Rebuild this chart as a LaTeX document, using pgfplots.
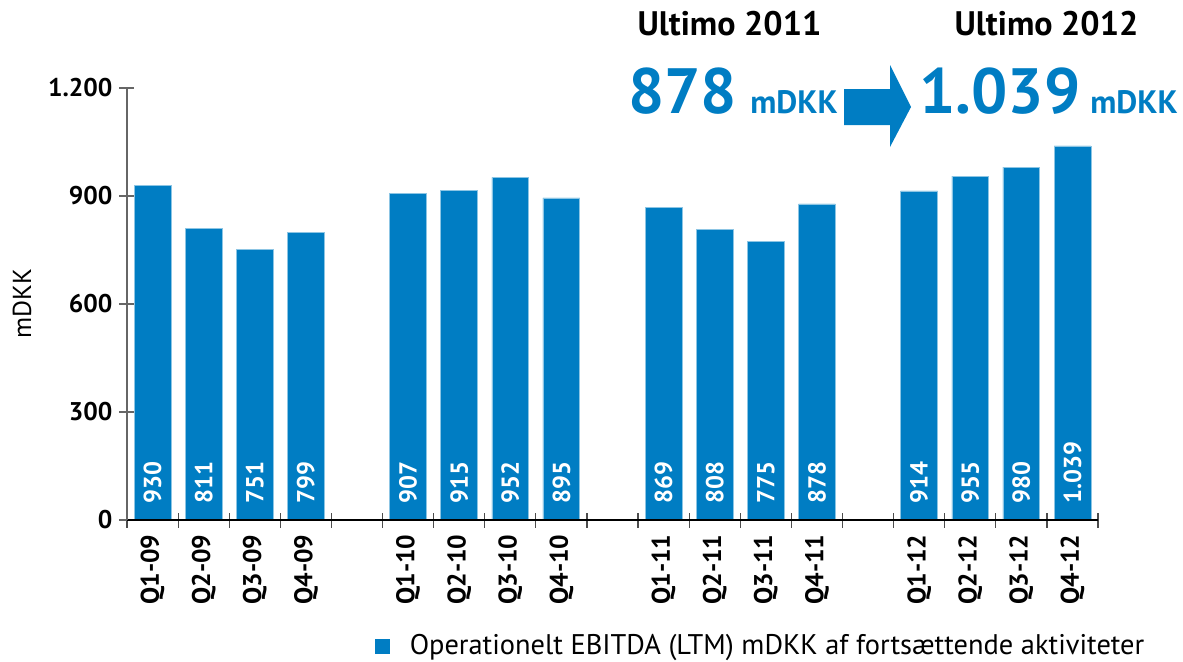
\documentclass[border=0pt]{standalone}
\usepackage{fontspec}
\setmainfont{PT Sans}
\usepackage{pgfplots}
\pgfplotsset{compat=1.18}
\usepackage{pgfplotstable}
\definecolor{barblue}{RGB}{0,125,195}

\pgfplotstableread{
x y lbl
0 930 930
1 811 811
2 751 751
3 799 799
5 907 907
6 915 915
7 952 952
8 895 895
10 869 869
11 808 808
12 775 775
13 878 878
15 914 914
16 955 955
17 980 980
18 1039 1.039
}\ebitda

\begin{document}
\begin{tikzpicture}
\path[use as bounding box] (-63.5pt,-70.5pt) rectangle (528pt,260pt);
\begin{axis}[
  scale only axis, width=485.5pt, height=216pt,
  xmin=-0.5, xmax=18.5, ymin=0, ymax=1200,
  axis on top,
  axis x line*=bottom, axis y line*=left,
  axis line style={-},
  x axis line style={black, line width=0.8pt},
  y axis line style={black!60, line width=0.8pt},
  xtick={-0.5,0.5,...,18.5},
  x tick label as interval,
  xticklabels={Q1-09,Q2-09,Q3-09,Q4-09,,Q1-10,Q2-10,Q3-10,Q4-10,,Q1-11,Q2-11,Q3-11,Q4-11,,Q1-12,Q2-12,Q3-12,Q4-12},
  ytick={0,300,600,900,1200},
  tick align=center, major tick length=7.5pt,
  x tick style={black!70, line width=0.6pt},
  y tick style={black!60, line width=0.6pt},
  tick label style={font=\bfseries\fontsize{12.8}{14}\selectfont},
  xticklabel style={rotate=90, anchor=east},
  ylabel={mDKK},
  ylabel style={at={(axis description cs:-0.108,0.5)}, anchor=center, font=\fontsize{13}{15}\selectfont},
  legend entries={Operationelt EBITDA (LTM) mDKK af fortsættende aktiviteter},
  legend style={draw=none, fill=none, at={(axis description cs:0.249,-0.292)}, anchor=west, font=\fontsize{14.2}{16}\selectfont},
  legend image code/.code={\fill[barblue] (0pt,-3.5pt) rectangle (7pt,3.5pt); \path (15pt,0pt);},
  /pgf/number format/.cd, 1000 sep={.}, assume math mode=true, /pgfplots/.cd,
]
\addplot[ybar, bar shift=0pt, bar width=0.72, fill=barblue, draw=barblue!45!white, line width=0.3pt]
  table[x=x, y=y]{\ebitda};
\addplot[draw=none, mark=none, nodes near coords, point meta=explicit symbolic,
  every node near coord/.append style={rotate=90, anchor=west, inner xsep=8pt, inner ysep=0pt, text=white, font=\bfseries\fontsize{12.3}{14}\selectfont}]
  table[x=x, y expr=0, meta=lbl]{\ebitda};
\end{axis}
\node[anchor=base, inner sep=0pt, font=\bfseries\fontsize{17}{20}\selectfont] at (301.25pt,242.5pt) {Ultimo 2011};
\node[anchor=base, inner sep=0pt, font=\bfseries\fontsize{17}{20}\selectfont] at (459.75pt,242.5pt) {Ultimo 2012};
\node[anchor=base west, inner sep=0pt, text=barblue, font=\bfseries\fontsize{32}{36}\selectfont] at (250.5pt,203.5pt) {878};
\node[anchor=base west, inner sep=0pt, text=barblue, font=\bfseries\fontsize{16.2}{18}\selectfont] at (311.5pt,203.5pt) {mDKK};
\node[anchor=base west, inner sep=0pt, text=barblue, font=\bfseries\fontsize{32}{36}\selectfont] at (396pt,203.5pt) {1.039};
\node[anchor=base west, inner sep=0pt, text=barblue, font=\bfseries\fontsize{16.2}{18}\selectfont] at (481.5pt,203.5pt) {mDKK};
\fill[barblue] (358.5pt,197.5pt) -- (381.5pt,197.5pt) -- (381.5pt,186.5pt) -- (392pt,206.5pt) -- (381.5pt,227.5pt) -- (381.5pt,215.5pt) -- (358.5pt,215.5pt) -- cycle;
\end{tikzpicture}
\end{document}
